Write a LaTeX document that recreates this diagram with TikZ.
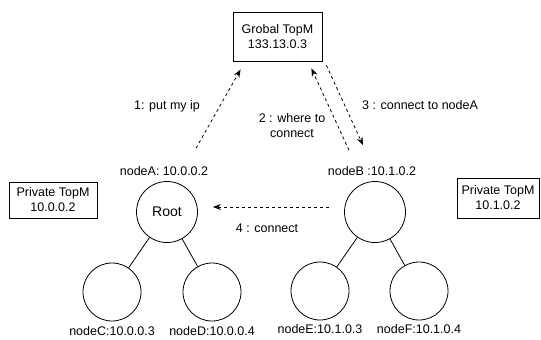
\documentclass[tikz,border=0pt]{standalone}
\usepackage{fontspec}
\setmainfont{Liberation Sans}
\usetikzlibrary{arrows.meta,positioning}

\begin{document}
\begin{tikzpicture}[
x=1pt, y=-1pt,
font=\fontsize{12.5}{15}\selectfont,
box/.style={draw, line width=0.8pt, align=center, inner sep=2pt},
peer/.style={draw, circle, line width=0.8pt, minimum size=61pt, inner sep=0pt},
leaf/.style={draw, circle, line width=0.8pt, minimum size=58pt, inner sep=0pt},
tag/.style={inner sep=1pt, align=center},
msg/.style={dash pattern=on 3pt off 3pt, line width=0.8pt, -{Stealth[length=8pt,width=6pt]}},
link/.style={line width=0.8pt}
]
\useasboundingbox (0,0) rectangle (541,340);
\node[box, minimum width=89pt, minimum height=49pt] (global) at (277.5,37) {Grobal TopM\\ 133.13.0.3};
\node[box, minimum width=88pt, minimum height=36pt] (privA) at (53,200) {Private TopM\\ 10.0.0.2};
\node[box, minimum width=82pt, minimum height=40pt] (privB) at (498,198) {Private TopM\\ 10.1.0.2};
% trees
\node[peer, font=\fontsize{14}{16}\selectfont] (root) at (167,212) {Root};
\node[peer] (nodeB) at (375,212) {};
\node[leaf] (nodeC) at (112,292) {};
\node[leaf] (nodeD) at (212,292) {};
\node[leaf] (nodeE) at (320,291) {};
\node[leaf] (nodeF) at (419,291) {};
\node[tag] (lblA) at (164,171) {nodeA: 10.0.0.2};
\node[tag] (lblB) at (372,171) {nodeB :10.1.0.2};
\node[tag] (lblC) at (112,331) {nodeC:10.0.0.3};
\node[tag] (lblD) at (212,331) {nodeD:10.0.0.4};
\node[tag] (lblE) at (320,329) {nodeE:10.1.0.3};
\node[tag] (lblF) at (419,329) {nodeF:10.1.0.4};
\draw[link] (root) -- (nodeC);
\draw[link] (root) -- (nodeD);
\draw[link] (nodeB) -- (nodeE);
\draw[link] (nodeB) -- (nodeF);
% messages
\node[tag] (m1) at (167,106) {1: put my ip};
\node[tag] (m2) at (292,126) {2 : where to\\ connect};
\node[tag] (m3) at (420,105) {3 : connect to nodeA};
\node[tag] (m4) at (267,228) {4 : connect};
\draw[msg] ([xshift=32pt,yshift=17pt]lblA.north) -- ([xshift=8pt,yshift=-7.5pt]global.south west);
\draw[msg] ([xshift=-23pt,yshift=15pt]lblB.north) -- ([xshift=-11pt,yshift=-6.5pt]global.south east);
\draw[msg] ([xshift=4pt,yshift=-3.5pt]global.south east) -- ([xshift=-9pt,yshift=20pt]lblB.north);
\draw[msg] ([xshift=-15pt,yshift=5pt]nodeB.west) -- ([xshift=15pt,yshift=5pt]root.east);
\end{tikzpicture}
\end{document}
